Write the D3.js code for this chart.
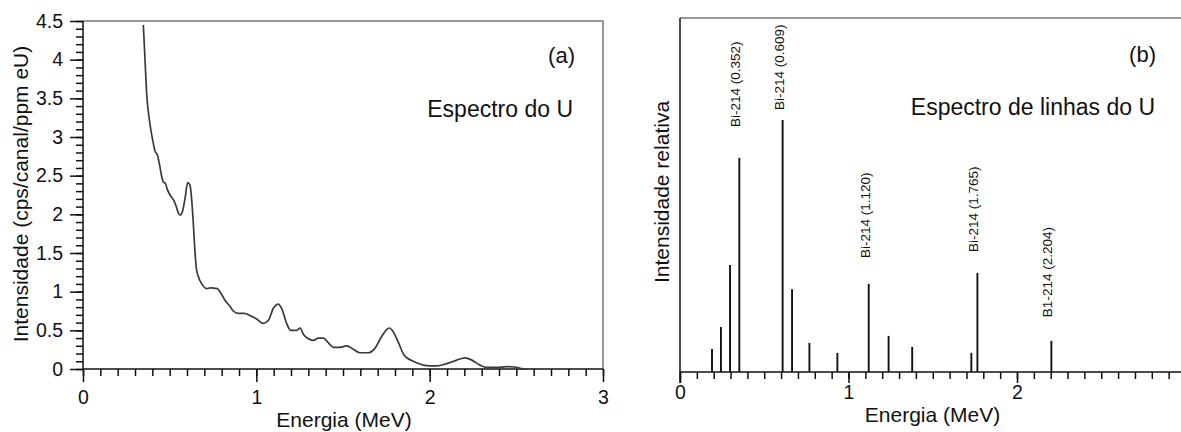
<!DOCTYPE html>
<html><head><meta charset="utf-8">
<script src="https://cdn.jsdelivr.net/npm/d3@7"></script>
<style>
body{margin:0;background:#fff;}
svg text{font-family:"Liberation Sans",Arial,sans-serif;fill:#111;}
</style></head>
<body><svg id="c" width="1181" height="432"></svg>
<script>
// ---- Panel (a): continuous spectrum of U ----
const specEnergy = [0.348,0.358,0.367,0.383,0.402,0.417,0.429,0.440,0.454,0.463,0.475,0.487,0.502,0.521,0.535,0.550,0.560,0.573,0.589,0.604,0.617,0.627,0.636,0.645,0.654,0.665,0.685,0.714,0.733,0.775,0.790,0.819,0.848,0.867,0.895,0.930,0.964,1.000,1.040,1.070,1.098,1.127,1.146,1.175,1.198,1.233,1.252,1.271,1.300,1.329,1.358,1.387,1.415,1.444,1.483,1.521,1.560,1.598,1.646,1.685,1.723,1.752,1.768,1.790,1.820,1.852,1.887,1.925,1.964,2.000,2.040,2.099,2.156,2.204,2.243,2.290,2.330,2.387,2.445,2.490,2.530,2.560];
const specValue  = [4.45,3.99,3.57,3.22,2.96,2.81,2.77,2.66,2.49,2.42,2.40,2.32,2.25,2.19,2.12,2.02,1.99,2.03,2.21,2.41,2.38,2.19,1.90,1.55,1.30,1.20,1.10,1.04,1.05,1.04,1.00,0.89,0.81,0.75,0.72,0.72,0.69,0.65,0.59,0.63,0.785,0.84,0.785,0.59,0.50,0.50,0.53,0.45,0.39,0.37,0.40,0.40,0.34,0.28,0.28,0.30,0.255,0.21,0.21,0.27,0.42,0.51,0.53,0.48,0.34,0.18,0.12,0.08,0.05,0.04,0.04,0.07,0.115,0.145,0.115,0.05,0.02,0.02,0.03,0.026,0.005,0.0];
const leftYTicks = [0,0.5,1,1.5,2,2.5,3,3.5,4,4.5];
const xTicks = [0,1,2,3];

// ---- Panel (b): line spectrum of U ----
const lineEnergy = [0.190,0.243,0.297,0.352,0.609,0.665,0.768,0.934,1.120,1.238,1.378,1.729,1.765,2.204];
const lineIntensity = [6.5,12.7,30.2,60.5,71.2,23.4,8.2,5.4,24.9,10.2,7.1,5.4,28.0,8.8];
const lineLabelEnergy = [0.352,0.609,1.120,1.765,2.204];
const lineLabelText = ["Bi-214 (0.352)","Bi-214 (0.609)","Bi-214 (1.120)","Bi-214 (1.765)","B1-214 (2.204)"];
const lineLabelLevel = [69.2,74.0,32.2,33.9,15.5];

const svg = d3.select("#c");
const tickFont = 19.5, titleFont = 21, noteFont = 23;

function styleAxis(g){
  g.select(".domain").remove();
  g.selectAll(".tick line").attr("stroke","#111").attr("stroke-width",1.5);
  g.selectAll(".tick text").attr("font-size",tickFont).attr("font-family","Liberation Sans, Arial, sans-serif").attr("fill","#111");
}

// ===== Panel (a) =====
const xa = d3.scaleLinear().domain([0,3]).range([83,603]);
const ya = d3.scaleLinear().domain([0,4.5]).range([369,21]);
const ga = svg.append("g");
ga.append("path").attr("d",`M${xa(0)},${ya(4.5)}H${xa(3)}V${ya(0)}`).attr("fill","none").attr("stroke","#777").attr("stroke-width",1.5);
ga.append("g").attr("transform",`translate(0,${ya(0)})`)
  .call(d3.axisBottom(xa).tickValues(d3.range(0,31).map(i=>i/10)).tickSize(7).tickFormat(""))
  .call(styleAxis);
ga.append("g").attr("transform",`translate(0,${ya(0)})`)
  .call(d3.axisBottom(xa).tickValues(xTicks).tickSize(13).tickPadding(8).tickFormat(d3.format("d")))
  .call(styleAxis);
ga.append("g").attr("transform",`translate(${xa(0)},0)`)
  .call(d3.axisLeft(ya).tickValues(d3.range(0,46).map(i=>i/10)).tickSize(7).tickFormat(""))
  .call(styleAxis);
ga.append("g").attr("transform",`translate(${xa(0)},0)`)
  .call(d3.axisLeft(ya).tickValues(leftYTicks).tickSize(13).tickPadding(7).tickFormat(d=>d3.format("")(d)))
  .call(styleAxis);
ga.append("line").attr("x1",xa(0)).attr("x2",xa(3)).attr("y1",ya(0)).attr("y2",ya(0)).attr("stroke","#111").attr("stroke-width",1.5);
ga.append("line").attr("x1",xa(0)).attr("x2",xa(0)).attr("y1",ya(0)).attr("y2",ya(4.5)).attr("stroke","#111").attr("stroke-width",1.5);
const pts = specEnergy.map((e,i)=>[e,specValue[i]]);
ga.append("path").datum(pts)
  .attr("d",d3.line().x(d=>xa(d[0])).y(d=>ya(d[1])).curve(d3.curveMonotoneX))
  .attr("fill","none").attr("stroke","#3a3a3a").attr("stroke-width",1.7);
ga.append("text").attr("x",(xa(0)+xa(3))/2+1).attr("y",427).attr("text-anchor","middle").attr("font-size",titleFont).text("Energia (MeV)");
ga.append("text").attr("transform",`translate(28,${194}) rotate(-90)`).attr("text-anchor","middle").attr("font-size",titleFont).text("Intensidade (cps/canal/ppm eU)");
ga.append("text").attr("x",575).attr("y",63).attr("text-anchor","end").attr("font-size",noteFont-1).text("(a)");
ga.append("text").attr("x",573).attr("y",117).attr("text-anchor","end").attr("font-size",noteFont).text("Espectro do U");

// ===== Panel (b) =====
const xb = d3.scaleLinear().domain([0,3]).range([680,1185.5]);
const yb = d3.scaleLinear().domain([0,100]).range([372,18]);
const gb = svg.append("g");
gb.append("line").attr("x1",xb(0)).attr("x2",1181).attr("y1",yb(100)).attr("y2",yb(100)).attr("stroke","#777").attr("stroke-width",1.5);
gb.append("g").attr("transform",`translate(0,${yb(0)})`)
  .call(d3.axisBottom(xb).tickValues(d3.range(0,30).map(i=>i/10)).tickSize(7).tickFormat(""))
  .call(styleAxis);
gb.append("g").attr("transform",`translate(0,${yb(0)})`)
  .call(d3.axisBottom(xb).tickValues(xTicks).tickSize(11).tickPadding(2).tickFormat(d3.format("d")))
  .call(styleAxis);
gb.append("line").attr("x1",xb(0)).attr("x2",1181).attr("y1",yb(0)).attr("y2",yb(0)).attr("stroke","#111").attr("stroke-width",1.5);
gb.append("line").attr("x1",xb(0)).attr("x2",xb(0)).attr("y1",yb(0)+11).attr("y2",yb(100)).attr("stroke","#111").attr("stroke-width",1.5);
gb.selectAll("line.pk").data(lineEnergy).join("line").attr("class","pk")
  .attr("x1",d=>xb(d)).attr("x2",d=>xb(d))
  .attr("y1",yb(0)).attr("y2",(d,i)=>yb(lineIntensity[i]))
  .attr("stroke","#111").attr("stroke-width",1.9);
gb.selectAll("text.lbl").data(lineLabelEnergy).join("text").attr("class","lbl")
  .attr("transform",(d,i)=>`translate(${xb(d)+1},${yb(lineLabelLevel[i])}) rotate(-90)`)
  .attr("font-size",13.5).attr("text-anchor","start").text((d,i)=>lineLabelText[i]);
gb.append("text").attr("x",(xb(0)+1181)/2+2).attr("y",422).attr("text-anchor","middle").attr("font-size",titleFont).text("Energia (MeV)");
gb.append("text").attr("transform",`translate(669,${192}) rotate(-90)`).attr("text-anchor","middle").attr("font-size",titleFont).text("Intensidade relativa");
gb.append("text").attr("x",1156).attr("y",62).attr("text-anchor","end").attr("font-size",noteFont-1).text("(b)");
gb.append("text").attr("x",1155).attr("y",115).attr("text-anchor","end").attr("font-size",noteFont).text("Espectro de linhas do U");
</script></body></html>
